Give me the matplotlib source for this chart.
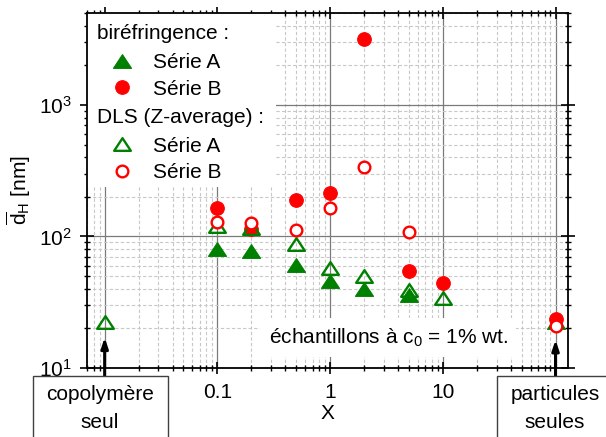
import matplotlib
matplotlib.use('Agg')
import matplotlib.pyplot as plt
from matplotlib.lines import Line2D
from matplotlib.patches import Rectangle
from matplotlib.path import Path
from matplotlib.ticker import LogLocator, NullFormatter, FixedLocator
import numpy as np

plt.rcParams['font.family'] = ['Liberation Sans', 'DejaVu Sans']
plt.rcParams['mathtext.fontset'] = 'custom'
plt.rcParams['mathtext.rm'] = 'Liberation Sans'
plt.rcParams['mathtext.it'] = 'Liberation Sans:italic'
plt.rcParams['mathtext.bf'] = 'Liberation Sans:bold'

# ---- data ----
x_bif_A = [0.1, 0.2, 0.5, 1, 2, 5, 100]
y_bif_A = [81, 78, 61, 46, 40, 36, 22.5]
x_bif_B = [0.1, 0.2, 0.5, 1, 2, 5, 10, 100]
y_bif_B = [165, 114, 190, 215, 3180, 55, 44, 23.4]
x_dls_A = [0.01, 0.1, 0.2, 0.5, 1, 2, 5, 10]
y_dls_A = [22.3, 121, 115, 87, 58, 50, 39.5, 34]
x_dls_B = [0.1, 0.2, 0.5, 1, 2, 5, 100]
y_dls_B = [128, 126, 112, 165, 336, 109, 20.9]

x_ticks = [0.01, 0.1, 1, 10, 100]
x_ticklabels = ['', '0.1', '1', '10', '']

GREEN = '#008000'
RED = '#ff0000'
FS = 15

tri = Path([(-1, -0.76), (1, -0.76), (0, 0.76), (-1, -0.76)],
           [Path.MOVETO, Path.LINETO, Path.LINETO, Path.CLOSEPOLY])

fig = plt.figure(figsize=(6.06, 4.37), dpi=100)
ax = fig.add_axes([87/606, 1-368/437, (568-87)/606, (368-13)/437])
ax.set_xscale('log')
ax.set_yscale('log')
ax.set_xlim(0.00697, 129)
ax.set_ylim(10, 5000)

sty_bA = dict(marker=tri, ms=13, mfc=GREEN, mec=GREEN, mew=0.8)
sty_bB = dict(marker='o', ms=9.8, mfc=RED, mec=RED, mew=0.8)
sty_dA = dict(marker=tri, ms=12, mfc='none', mec=GREEN, mew=1.7)
sty_dB = dict(marker='o', ms=8.4, mfc='white', mec=RED, mew=1.7)

ax.plot(x_bif_A, y_bif_A, ls='none', zorder=3, **sty_bA)
ax.plot(x_bif_B, y_bif_B, ls='none', zorder=4, **sty_bB)
ax.plot(x_dls_A, y_dls_A, ls='none', zorder=5, **sty_dA)
ax.plot(x_dls_B, y_dls_B, ls='none', zorder=6, **sty_dB)

# ticks and grid
ax.xaxis.set_major_locator(FixedLocator(x_ticks))
ax.set_xticklabels(x_ticklabels)
ax.xaxis.set_minor_locator(LogLocator(base=10, subs=np.arange(2, 10), numticks=20))
ax.xaxis.set_minor_formatter(NullFormatter())
ax.yaxis.set_minor_locator(LogLocator(base=10, subs=np.arange(2, 10), numticks=20))
ax.yaxis.set_minor_formatter(NullFormatter())
ax.tick_params(which='both', top=True, right=True, labelsize=FS, color='black')
ax.tick_params(axis='x', which='major', direction='inout', length=8, width=1.2, pad=7)
ax.tick_params(axis='y', which='major', direction='inout', length=10, width=1.2, pad=6)
ax.tick_params(which='minor', direction='inout', length=5, width=1)
ax.grid(True, which='major', color='#7a7a7a', lw=0.9, ls='-')
ax.grid(True, which='minor', color='#c8c8c8', lw=0.8, ls=(0, (3, 2)))
for s in ax.spines.values():
    s.set_linewidth(1.3)

ax.set_xlabel('X', fontsize=FS, labelpad=1)
ax.set_ylabel(r'$\overline{\mathrm{d}}_{\mathrm{H}}$ [nm]', fontsize=FS, labelpad=4)

# white background for legend
ax.add_patch(Rectangle((0, 0.51), 0.393, 0.49, transform=ax.transAxes,
                       facecolor='white', edgecolor='none', zorder=1.8))

h_bA = Line2D([], [], ls='none', **sty_bA)
h_bB = Line2D([], [], ls='none', **sty_bB)
h_dA = Line2D([], [], ls='none', **sty_dA)
h_dB = Line2D([], [], ls='none', **sty_dB)

leg_kw = dict(frameon=False, fontsize=FS, title_fontsize=FS, alignment='left',
              handlelength=2.4, handletextpad=0.3, labelspacing=0.36,
              borderpad=0.0, borderaxespad=0.0, numpoints=1)
leg1 = ax.legend([h_bA, h_bB], ['Série A', 'Série B'], title='biréfringence :',
                 loc='upper left', bbox_to_anchor=(10/481, 1-11.5/355), **leg_kw)
leg1._legend_box.sep = 7
ax.add_artist(leg1)
leg2 = ax.legend([h_dA, h_dB], ['Série A', 'Série B'], title='DLS (Z-average) :',
                 loc='upper left', bbox_to_anchor=(10/481, 1-95/355), **leg_kw)
leg2._legend_box.sep = 7
for lg in (leg1, leg2):
    lg.set_zorder(7)

# annotation text
ax.text(0.378, 0.085, r'échantillons à c$_{0}$ = 1% wt.', transform=ax.transAxes,
        fontsize=FS, ha='left', va='center', zorder=7,
        bbox=dict(boxstyle='square,pad=0.4', facecolor='white', edgecolor='none'))

# arrows to isolated points
ax.annotate('', xy=(x_dls_A[0], y_dls_A[0]), xytext=(0, -(376-322)*0.72),
            textcoords='offset points', annotation_clip=False,
            arrowprops=dict(arrowstyle='-|>,head_length=0.6,head_width=0.2', lw=2.2,
                            color='black', shrinkA=0, shrinkB=11), zorder=8)
ax.annotate('', xy=(x_dls_B[-1], y_dls_B[-1]), xytext=(0, -(376-326)*0.72),
            textcoords='offset points', annotation_clip=False,
            arrowprops=dict(arrowstyle='-|>,head_length=0.6,head_width=0.2', lw=2.2,
                            color='black', shrinkA=0, shrinkB=10), zorder=8)

# boxes below axis
for (x0, x1, cx, l1, l2) in [(33, 168, 100, 'copolymère', 'seul'),
                             (497, 612, 555, 'particules', 'seules')]:
    fig.add_artist(Rectangle((x0/606, -0.01), (x1-x0)/606, (437-376)/437 + 0.01,
                             transform=fig.transFigure, facecolor='white',
                             edgecolor='#404040', lw=1.0, zorder=9))
    fig.text(cx/606, 1-395/437, l1, ha='center', va='center', fontsize=FS, zorder=10)
    fig.text(cx/606, 1-423/437, l2, ha='center', va='center', fontsize=FS, zorder=10)

fig.savefig('out.png', dpi=100)
